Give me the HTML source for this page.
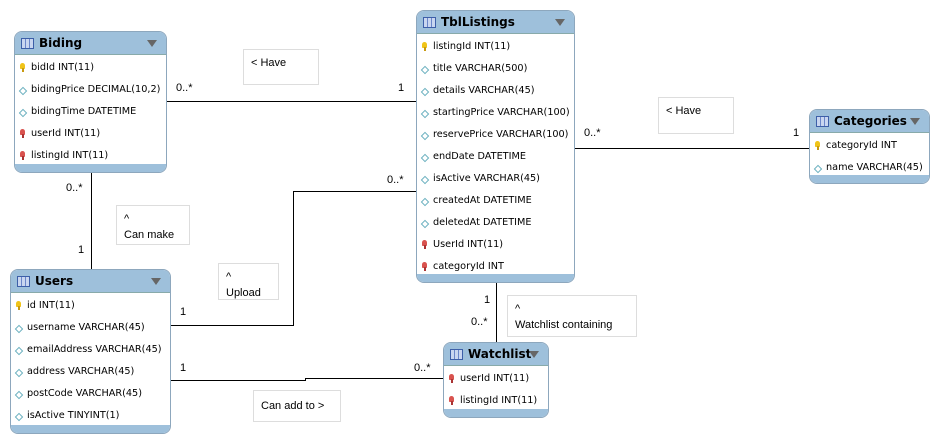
<!DOCTYPE html>
<html><head><meta charset="utf-8"><style>
body{margin:0;width:939px;height:446px;background:#fff;position:relative;overflow:hidden;font-family:"DejaVu Sans","Liberation Sans",sans-serif;font-size:10px;color:#000}
.t{position:absolute;background:#fff;border:1px solid #8da7bd;border-radius:8px;overflow:hidden;box-sizing:border-box}
.h{height:23px;background:#9ec0db;border-bottom:1px solid #8aa;position:relative;font-weight:bold;font-size:12px;line-height:23px;padding-left:24px;box-sizing:border-box;margin-bottom:2px}
.h:before{content:"";position:absolute;left:6px;top:6px;width:11px;height:9px;border:1px solid #3d5fa8;background:linear-gradient(90deg,#c9d6f0 0 3px,#6b86c9 3px 4px,#c9d6f0 4px 7px,#6b86c9 7px 8px,#c9d6f0 8px)}
.h:after{content:"";position:absolute;right:9px;top:8px;border-left:5px solid transparent;border-right:5px solid transparent;border-top:7px solid #666}
.f{position:absolute;left:0;right:0;bottom:0;height:8px;background:#9ec0db}
.r{height:22px;line-height:22px;padding-left:16px;position:relative;white-space:nowrap;font-size:9.7px}
.k:before,.fk:before{content:"";position:absolute;left:5px;top:6px;width:5px;height:6px;border-radius:3px 3px 1px 1px;background:#f0c419}
.k:after,.fk:after{content:"";position:absolute;left:7px;top:11px;width:2px;height:4px;background:#c89a10}
.fk:before{background:#d9534f}.fk:after{background:#a33}
.d:before{content:"";position:absolute;left:5px;top:9px;width:4px;height:4px;border:1px solid #6ab0bf;transform:rotate(45deg);background:#fff}
.lb{position:absolute;font-family:"Liberation Sans",sans-serif;font-size:11px}
.bx{position:absolute;border:1px solid #ddd;background:#fff;font-family:"Liberation Sans",sans-serif;font-size:11px;box-sizing:border-box;padding:5px 7px;line-height:16px}
svg{position:absolute;left:0;top:0}
</style></head><body>
<svg width="939" height="446"><g stroke="#000" stroke-width="1" fill="none" shape-rendering="crispEdges">
<line x1="167" y1="101.5" x2="416" y2="101.5"/>
<line x1="575" y1="148.5" x2="809" y2="148.5"/>
<line x1="91.5" y1="172" x2="91.5" y2="269"/>
<polyline points="171,325.5 293.5,325.5 293.5,191.5 416,191.5"/>
<line x1="496.5" y1="282" x2="496.5" y2="342"/>
<polyline points="171,380.5 305.5,380.5 305.5,378.5 443,378.5"/>
</g></svg>

<div class="bx" style="left:243px;top:49px;width:76px;height:36px">&lt; Have</div>
<div class="bx" style="left:658px;top:97px;width:76px;height:37px">&lt; Have</div>
<div class="bx" style="left:116px;top:205px;width:74px;height:40px">^<br>Can make</div>
<div class="bx" style="left:218px;top:263px;width:61px;height:37px">^<br>Upload</div>
<div class="bx" style="left:507px;top:295px;width:130px;height:42px">^<br>Watchlist containing</div>
<div class="bx" style="left:253px;top:390px;width:88px;height:32px;padding-top:7px">Can add to &gt;</div>

<div class="lb" style="left:176px;top:82px">0..*</div>
<div class="lb" style="left:398px;top:82px">1</div>
<div class="lb" style="left:584px;top:127px">0..*</div>
<div class="lb" style="left:793px;top:127px">1</div>
<div class="lb" style="left:66px;top:182px">0..*</div>
<div class="lb" style="left:78px;top:244px">1</div>
<div class="lb" style="left:387px;top:174px">0..*</div>
<div class="lb" style="left:180px;top:306px">1</div>
<div class="lb" style="left:484px;top:294px">1</div>
<div class="lb" style="left:471px;top:316px">0..*</div>
<div class="lb" style="left:180px;top:362px">1</div>
<div class="lb" style="left:414px;top:362px">0..*</div>

<div class="t" style="left:14px;top:31px;width:153px;height:142px">
<div class="h">Biding</div>
<div class="r k">bidId INT(11)</div>
<div class="r d">bidingPrice DECIMAL(10,2)</div>
<div class="r d">bidingTime DATETIME</div>
<div class="r fk">userId INT(11)</div>
<div class="r fk">listingId INT(11)</div>
<div class="f"></div></div>

<div class="t" style="left:416px;top:10px;width:159px;height:273px">
<div class="h">TblListings</div>
<div class="r k">listingId INT(11)</div>
<div class="r d">title VARCHAR(500)</div>
<div class="r d">details VARCHAR(45)</div>
<div class="r d">startingPrice VARCHAR(100)</div>
<div class="r d">reservePrice VARCHAR(100)</div>
<div class="r d">endDate DATETIME</div>
<div class="r d">isActive VARCHAR(45)</div>
<div class="r d">createdAt DATETIME</div>
<div class="r d">deletedAt DATETIME</div>
<div class="r fk">UserId INT(11)</div>
<div class="r fk">categoryId INT</div>
<div class="f"></div></div>

<div class="t" style="left:809px;top:109px;width:121px;height:75px">
<div class="h">Categories</div>
<div class="r k">categoryId INT</div>
<div class="r d">name VARCHAR(45)</div>
<div class="f"></div></div>

<div class="t" style="left:10px;top:269px;width:161px;height:165px">
<div class="h">Users</div>
<div class="r k">id INT(11)</div>
<div class="r d">username VARCHAR(45)</div>
<div class="r d">emailAddress VARCHAR(45)</div>
<div class="r d">address VARCHAR(45)</div>
<div class="r d">postCode VARCHAR(45)</div>
<div class="r d">isActive TINYINT(1)</div>
<div class="f"></div></div>

<div class="t" style="left:443px;top:342px;width:106px;height:76px">
<div class="h">Watchlist</div>
<div class="r fk">userId INT(11)</div>
<div class="r fk">listingId INT(11)</div>
<div class="f"></div></div>
</body></html>
